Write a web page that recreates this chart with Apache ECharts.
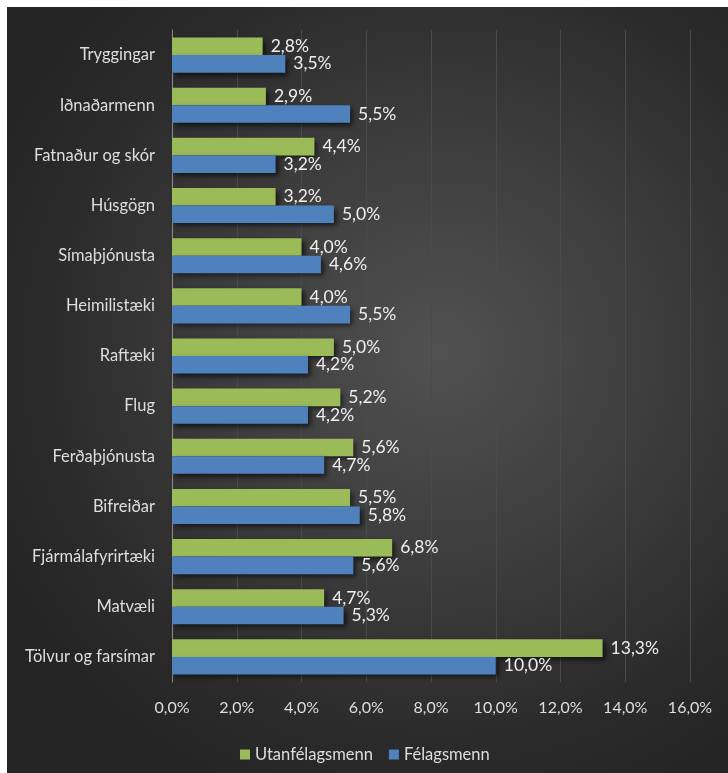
<!DOCTYPE html>
<html lang="is">
<head>
<meta charset="UTF-8">
<title>Verðkannanir</title>
<script src="https://cdn.jsdelivr.net/npm/echarts@6/dist/echarts.min.js"></script>
<style>
  html, body { margin: 0; padding: 0; background: #ffffff; }
  #main {
    position: absolute; left: 7px; top: 7px; width: 721px; height: 766px;
    background: radial-gradient(ellipse 70% 65% at 60% 45%, #515151 0%, #3c3c3c 45%, #2a2a2a 80%, #242424 100%);
  }
</style>
</head>
<body>
<div id="main"></div>
<script>
  // flokkar, efst til neðst
  var categories = ['Tryggingar', 'Iðnaðarmenn', 'Fatnaður og skór', 'Húsgögn', 'Símaþjónusta',
    'Heimilistæki', 'Raftæki', 'Flug', 'Ferðaþjónusta', 'Bifreiðar', 'Fjármálafyrirtæki',
    'Matvæli', 'Tölvur og farsímar'];
  var utanfelagsmenn = [2.8, 2.9, 4.4, 3.2, 4.0, 4.0, 5.0, 5.2, 5.6, 5.5, 6.8, 4.7, 13.3];
  var felagsmenn = [3.5, 5.5, 3.2, 5.0, 4.6, 5.5, 4.2, 4.2, 4.7, 5.8, 5.6, 5.3, 10.0];

  function pct(v) {
    return v.toFixed(1).replace('.', ',') + '%';
  }

  var font = 'Lato, "Open Sans", sans-serif';
  var shadow = {
    shadowColor: 'rgba(0,0,0,0.6)',
    shadowBlur: 5,
    shadowOffsetX: 3,
    shadowOffsetY: 3
  };

  var myChart = echarts.init(document.getElementById('main'));
  var option = {
    backgroundColor: 'transparent',
    animation: false,
    textStyle: { fontFamily: font },
    grid: { left: 165, right: 38, top: 23, bottom: 91, containLabel: false },
    legend: {
      top: 734,
      left: 228,
      itemWidth: 10,
      itemHeight: 10,
      itemGap: 16,
      icon: 'rect',
      textStyle: { color: '#dedede', fontSize: 16.5, fontFamily: font },
      data: ['Utanfélagsmenn', 'Félagsmenn']
    },
    xAxis: {
      type: 'value',
      min: 0,
      max: 16,
      interval: 2,
      axisLine: { show: false },
      axisTick: { show: false },
      axisLabel: {
        color: '#dedede', fontSize: 16, margin: 18,
        formatter: function (v) { return pct(v); }
      },
      splitLine: { lineStyle: { color: '#4a4a4a', width: 1 } }
    },
    yAxis: {
      type: 'category',
      inverse: true,
      data: categories,
      axisLine: { show: true, lineStyle: { color: '#8c8c8c', width: 1 } },
      axisTick: { show: false },
      axisLabel: { color: '#dedede', fontSize: 16.5, margin: 17 }
    },
    series: [
      {
        name: 'Utanfélagsmenn',
        type: 'bar',
        data: utanfelagsmenn,
        barGap: '0%',
        barCategoryGap: '30%',
        itemStyle: Object.assign({ color: '#9bbb59' }, shadow),
        label: {
          show: true, position: 'right', distance: 8,
          color: '#efefef', fontSize: 17.5,
          formatter: function (p) { return pct(p.value); }
        }
      },
      {
        name: 'Félagsmenn',
        type: 'bar',
        data: felagsmenn,
        barGap: '0%',
        barCategoryGap: '30%',
        itemStyle: Object.assign({ color: '#4f81bd' }, shadow),
        label: {
          show: true, position: 'right', distance: 8,
          color: '#efefef', fontSize: 17.5,
          formatter: function (p) { return pct(p.value); }
        }
      }
    ]
  };
  option && myChart.setOption(option);
</script>
</body>
</html>
